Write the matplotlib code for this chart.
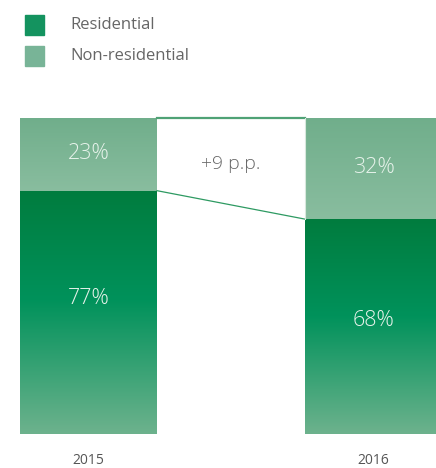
import matplotlib
matplotlib.use("Agg")
import matplotlib.pyplot as plt
import numpy as np
from matplotlib.colors import LinearSegmentedColormap

years = ["2015", "2016"]
residential = [77, 68]
non_residential = [23, 32]
series_names = ["Residential", "Non-residential"]
change_label = "+9 p.p."

plt.rcParams['font.family'] = ['Open Sans', 'DejaVu Sans']

W, H = 436, 468
fig = plt.figure(figsize=(W / 100, H / 100), dpi=100)

# axes geometry (pixel based)
bar_top_px, bar_bot_px = 118, 434
c0, c1 = 88.5, 373.5
unit = c1 - c0
ax = fig.add_axes([0, (H - bar_bot_px) / H, 1, (bar_bot_px - bar_top_px) / H])
ax.axis("off")
bw = 137 / unit

x = np.arange(len(years))
res_cmap = LinearSegmentedColormap.from_list(
    "res", [(0, "#007c3e"), (0.45, "#00925b"), (1.0, "#6db28d")])
non_cmap = LinearSegmentedColormap.from_list(
    "non", [(0, "#70ae8b"), (1.0, "#89bd9f")])

grad = np.linspace(0, 1, 256).reshape(-1, 1)

res_bars = ax.bar(x, residential, bw, color="#00914f", linewidth=0)
non_bars = ax.bar(x, non_residential, bw, bottom=residential, color="#7ab595", linewidth=0)

for bars, cmap in ((res_bars, res_cmap), (non_bars, non_cmap)):
    for p in bars:
        x0, y0 = p.get_x(), p.get_y()
        w, h = p.get_width(), p.get_height()
        im = ax.imshow(grad, cmap=cmap, aspect="auto", origin="upper",
                       extent=[x0, x0 + w, y0, y0 + h], zorder=2)
        im.set_clip_path(p)

ax.set_xlim(-c0 / unit, (W - c0) / unit)
ax.set_ylim(0, 100)

# connectors
xr = x[0] + bw / 2
xl = x[1] - bw / 2
ax.plot([xr, xl], [100, 100], color="#4fa275", lw=1.6, zorder=3, clip_on=False)
ax.plot([xr, xl], [residential[0], residential[1]], color="#2e9a62", lw=0.9, zorder=3)
ax.plot([xl, xl], [residential[1], 100], color="#d8e8dd", lw=0.8, zorder=3)

# percentage labels
res_off = [4.5, 2]
for i in range(len(years)):
    ax.text(x[i], residential[i] / 2 + res_off[i], f"{residential[i]}%",
            ha="center", va="center", color="#e6f2ea", fontsize=15.5,
            fontweight="light", zorder=4)
    ax.text(x[i], residential[i] + non_residential[i] / 2 + 0.3,
            f"{non_residential[i]}%", ha="center", va="center", color="#e6f2ea",
            fontsize=15.5, fontweight="light", zorder=4)

ax.text((xr + xl) / 2, 85.5, change_label, ha="center", va="center",
        color="#666666", fontsize=14, fontweight="light")

# year labels
for i, yr in enumerate(years):
    fig.text((c0 + unit * i) / W, 1 - 460.5 / H, yr, ha="center", va="center",
             color="#555555", fontsize=10)

# legend
leg_colors = ["#14935f", "#78b497"]
for j, (name, col) in enumerate(zip(series_names, leg_colors)):
    ytop = 15 + j * 31
    fig.patches.append(plt.Rectangle((25 / W, 1 - (ytop + 20) / H), 19 / W, 20 / H,
                                     transform=fig.transFigure, color=col))
    fig.text(70 / W, 1 - (ytop + 10) / H, name, ha="left", va="center",
             color="#666666", fontsize=12)

fig.savefig("out.png", dpi=100)
